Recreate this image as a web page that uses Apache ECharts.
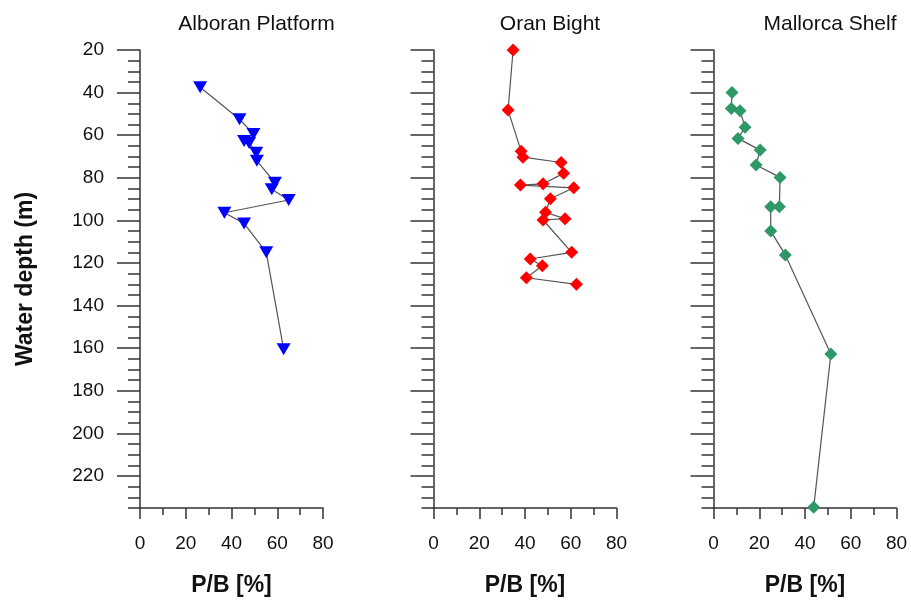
<!DOCTYPE html>
<html>
<head>
<meta charset="utf-8">
<script src="https://cdn.jsdelivr.net/npm/echarts@6/dist/echarts.min.js"></script>
<style>
  html, body { margin: 0; padding: 0; background: #fff; }
  #chart { width: 911px; height: 606px; }
</style>
</head>
<body>
<div id="chart"></div>
<script>
// data
const panelTitles = ['Alboran Platform', 'Oran Bight', 'Mallorca Shelf']
const depthTicks = [20, 40, 60, 80, 100, 120, 140, 160, 180, 200, 220]
const pbTicks = [0, 20, 40, 60, 80]

const alboranPB    = [26.3, 43.5, 49.6, 45.5, 47.7, 50.8, 51.1, 59.0, 57.6, 65.0, 36.9, 45.5, 55.2, 62.8]
const alboranDepth = [37.5, 52.5, 59.4, 62.7, 63.7, 68.2, 72.0, 82.3, 85.4, 90.4, 96.4, 101.4, 115.0, 160.5]

const oranPB    = [34.8, 32.6, 38.3, 39.1, 55.8, 56.9, 47.9, 38.0, 61.3, 51.1, 49.0, 57.5, 47.9, 60.4, 42.3, 47.6, 40.6, 62.5]
const oranDepth = [20.0, 48.2, 67.5, 70.3, 72.8, 77.9, 82.8, 83.4, 84.7, 89.8, 96.2, 99.2, 99.8, 115.0, 118.1, 121.3, 126.9, 130.0]

const mallorcaPB    = [8.1, 7.8, 11.6, 13.8, 10.7, 20.4, 18.6, 29.1, 28.8, 25.0, 25.0, 31.4, 51.3, 43.8]
const mallorcaDepth = [40.0, 47.5, 48.5, 56.3, 61.5, 67.0, 74.0, 79.8, 93.6, 93.6, 105.0, 116.2, 162.7, 234.7]

const seriesPB = [alboranPB, oranPB, mallorcaPB]
const seriesDepth = [alboranDepth, oranDepth, mallorcaDepth]
const colors = ['#0000ff', '#ff0000', '#2e9966']
const symbols = ['triangle', 'diamond', 'diamond']

// layout
const lefts = [140, 433.5, 713.5]
const W = 183, TOP = 50, H = 458
const FONT = '"Liberation Sans", Arial, sans-serif'
const axisColor = '#333'

let chart = echarts.init(document.getElementById('chart'))

let grid = [], xAxis = [], yAxis = [], series = [], title = []
for (let i = 0; i < 3; i++) {
  // main grid
  grid.push({ left: lefts[i], top: TOP, width: W, height: H })
  // overlay grid for the 5 m minor ticks
  grid.push({ left: lefts[i], top: TOP, width: W, height: H })
  const g = i * 2
  title.push({
    text: panelTitles[i],
    left: lefts[i] + W / 2 + 20,
    top: 9,
    textAlign: 'center',
    textStyle: { fontFamily: FONT, fontSize: 21, fontWeight: 'normal', color: '#111' }
  })
  xAxis.push({
    gridIndex: g, type: 'value', min: 0, max: 80, interval: 20,
    name: 'P/B [%]', nameLocation: 'middle', nameGap: 66,
    nameTextStyle: { fontFamily: FONT, fontSize: 23, fontWeight: 'bold', color: '#111' },
    axisLine: { show: true, lineStyle: { color: axisColor, width: 1.5 } },
    axisTick: { show: true, length: 11, lineStyle: { color: axisColor, width: 1.5 } },
    minorTick: { show: true, splitNumber: 2, length: 7, lineStyle: { color: axisColor, width: 1.5 } },
    axisLabel: { margin: 26, fontFamily: FONT, fontSize: 19, color: '#111' },
    splitLine: { show: false }
  })
  xAxis.push({ gridIndex: g + 1, type: 'value', min: 0, max: 80, show: false })
  yAxis.push({
    gridIndex: g, type: 'value', inverse: true, min: 20, max: 235, interval: 20,
    name: i === 0 ? 'Water depth (m)' : '', nameLocation: 'middle', nameGap: 103,
    nameTextStyle: { fontFamily: FONT, fontSize: 23, fontWeight: 'bold', color: '#111' },
    axisLine: { show: false },
    axisTick: { show: true, length: 23, customValues: depthTicks, lineStyle: { color: axisColor, width: 1.5 } },
    axisLabel: { show: i === 0, margin: 36, customValues: depthTicks, fontFamily: FONT, fontSize: 19, color: '#111' },
    splitLine: { show: false }
  })
  yAxis.push({
    gridIndex: g + 1, type: 'value', inverse: true, min: 20, max: 235, interval: 5,
    axisLine: { show: true, lineStyle: { color: axisColor, width: 1.5 } },
    axisTick: { show: true, length: 12, lineStyle: { color: axisColor, width: 1.5 } },
    axisLabel: { show: false },
    splitLine: { show: false }
  })
  series.push({
    type: 'line',
    xAxisIndex: g, yAxisIndex: g,
    data: seriesPB[i].map((v, k) => [v, seriesDepth[i][k]]),
    symbol: symbols[i],
    symbolRotate: i === 0 ? 180 : 0,
    symbolSize: i === 0 ? [14, 12] : 13,
    showAllSymbol: true,
    clip: false,
    lineStyle: { color: '#555', width: 1.2 },
    itemStyle: { color: colors[i] },
    z: 3
  })
}

let option = {
  animation: false,
  backgroundColor: '#fff',
  title, grid, xAxis, yAxis, series
}
chart.setOption(option)
</script>
</body>
</html>
